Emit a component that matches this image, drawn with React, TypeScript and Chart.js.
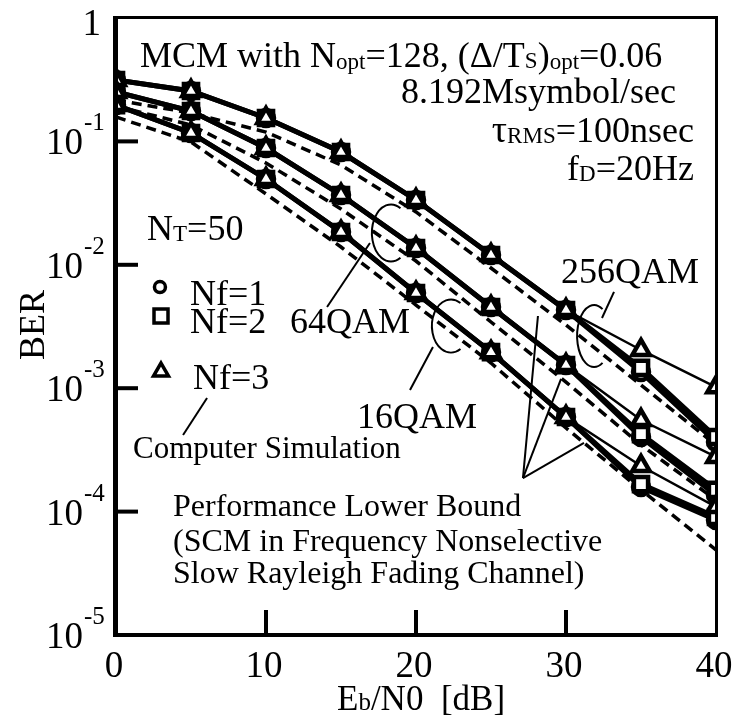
import React, { useEffect, useRef } from 'react';
import { Chart, registerables } from 'chart.js';

Chart.register(...registerables);

// ---------- data ----------
const ebn0 = [0, 5, 10, 15, 20, 25, 30, 35, 40];

const qam16Nf1 = [0.197, 0.117, 0.0496, 0.01845, 0.00591, 0.00196, 5.84e-4, 1.58e-4, 8.55e-5];
const qam16Nf2 = [0.197, 0.117, 0.0496, 0.01845, 0.00591, 0.00196, 5.84e-4, 1.67e-4, 9.04e-5];
const qam16Nf3 = [0.197, 0.117, 0.0496, 0.01845, 0.00591, 0.00196, 5.84e-4, 2.34e-4, 1.09e-4];

const qam64Nf1 = [0.2514, 0.1763, 0.0884, 0.0368, 0.01368, 0.00455, 0.00154, 4.02e-4, 1.36e-4];
const qam64Nf2 = [0.2514, 0.1763, 0.0884, 0.0368, 0.01368, 0.00455, 0.00154, 4.25e-4, 1.5e-4];
const qam64Nf3 = [0.2514, 0.1763, 0.0884, 0.0368, 0.01368, 0.00455, 0.00154, 5.52e-4, 2.77e-4];

const qam256Nf1 = [0.3145, 0.2561, 0.1547, 0.082, 0.0335, 0.012, 0.0043, 1.35e-3, 3.67e-4];
const qam256Nf2 = [0.3145, 0.2561, 0.1547, 0.082, 0.0335, 0.012, 0.0043, 1.46e-3, 4.02e-4];
const qam256Nf3 = [0.3145, 0.2561, 0.1547, 0.082, 0.0335, 0.012, 0.0043, 2.04e-3, 1.02e-3];

const bound16 = [0.1577, 0.0989, 0.0375, 0.01394, 0.00472, 0.0016, 4.76e-4, 1.5e-4, 4.89e-5];
const bound64 = [0.1936, 0.1358, 0.0668, 0.0283, 0.01073, 0.00344, 0.00112, 3.47e-4, 1.24e-4];
const bound256 = [0.2165, 0.17, 0.119, 0.0644, 0.0268, 0.00942, 0.00325, 0.00106, 3.47e-4];

const yTickExponents = [0, -1, -2, -3, -4, -5];
const xTickValues = [0, 10, 20, 30, 40];
const xInnerTicks = [10, 20, 30];
const yInnerTickExponents = [-1, -2, -3, -4];

const FONT = '"Liberation Serif", "Times New Roman", serif';

type Seg = [string, number, number?];

function drawRich(ctx: CanvasRenderingContext2D, x: number, y: number, segs: Seg[], align: 'left' | 'right' | 'center' = 'left') {
  let total = 0;
  for (const s of segs) {
    ctx.font = `${s[1]}px ${FONT}`;
    total += ctx.measureText(s[0]).width;
  }
  let cx = align === 'right' ? x - total : align === 'center' ? x - total / 2 : x;
  ctx.textAlign = 'left';
  ctx.textBaseline = 'alphabetic';
  for (const s of segs) {
    ctx.font = `${s[1]}px ${FONT}`;
    ctx.fillText(s[0], cx, y + (s[2] || 0));
    cx += ctx.measureText(s[0]).width;
  }
}

const toPts = (vals: number[]) => vals.map((v, i) => ({ x: ebn0[i], y: v }));

const simDs = (label: string, vals: number[], style: 'circle' | 'rect' | 'triangle', width: number, order: number) => ({
  label,
  data: toPts(vals),
  borderColor: '#000',
  borderWidth: width,
  pointStyle: style,
  pointRadius: style === 'circle' ? 8 : 10,
  pointBackgroundColor: '#fff',
  pointBorderColor: '#000',
  pointBorderWidth: 4.5,
  fill: false,
  tension: 0,
  clip: 0,
  order,
});

const boundDs = (label: string, vals: number[]) => ({
  label,
  data: toPts(vals),
  borderColor: '#000',
  borderWidth: 3.5,
  borderDash: [10, 6],
  pointRadius: 0,
  fill: false,
  tension: 0,
  clip: 0,
  order: 10,
});

const overlay = {
  id: 'overlay',
  afterDraw(chart: any) {
    const { ctx, chartArea: a, scales } = chart;
    const xs = scales.x;
    const ys = scales.y;
    const P = (db: number, e: number): [number, number] => [xs.getPixelForValue(db), ys.getPixelForValue(Math.pow(10, e))];
    ctx.save();
    ctx.fillStyle = '#000';
    ctx.strokeStyle = '#000';

    // frame
    ctx.fillRect(a.left - 3, a.top - 2, 5, a.bottom - a.top + 4);
    ctx.fillRect(a.left - 3, a.bottom - 2, a.right - a.left + 5, 4);
    ctx.fillRect(a.left, a.top - 2, a.right - a.left + 1, 3);
    ctx.fillRect(a.right - 1, a.top - 2, 3, a.bottom - a.top + 2);

    // inner ticks
    for (const e of yInnerTickExponents) {
      const py = ys.getPixelForValue(Math.pow(10, e));
      ctx.fillRect(a.left, py - 2, 22, 4);
    }
    for (const v of xInnerTicks) {
      const px = xs.getPixelForValue(v);
      ctx.fillRect(px - 2, a.bottom - 25, 4, 25);
    }

    // y tick labels
    for (const e of yTickExponents) {
      const py = ys.getPixelForValue(Math.pow(10, e));
      if (e === 0) {
        drawRich(ctx, a.left - 15, py + 17, [['1', 37]], 'right');
      } else {
        drawRich(ctx, a.left - 33, py + 13, [['10', 37]], 'right');
        drawRich(ctx, a.left - 32, py - 11, [['-' + String(-e), 25]], 'left');
      }
    }
    // x tick labels
    for (const v of xTickValues) {
      const px = xs.getPixelForValue(v);
      drawRich(ctx, px - 2, a.bottom + 42, [[String(v), 37]], 'center');
    }

    // axis titles
    ctx.save();
    ctx.translate(44, 325);
    ctx.rotate(-Math.PI / 2);
    drawRich(ctx, 0, 0, [['BER', 36]], 'center');
    ctx.restore();
    drawRich(ctx, 337, a.bottom + 75, [['E', 35], ['b', 25], ['/N0  [dB]', 35]], 'left');

    // header texts
    let p = P(1.6, -0.397);
    drawRich(ctx, p[0], p[1], [['MCM with N', 36], ['opt', 23, 2], ['=128, (\u0394/T', 36], ['S', 23, 1], [')', 36], ['opt', 23, 2], ['=0.06', 36]]);
    p = P(37.33, -0.689);
    drawRich(ctx, p[0], p[1], [['8.192Msymbol/sec', 36]], 'right');
    p = P(38.53, -1.005);
    drawRich(ctx, p[0], p[1], [['\u03c4', 38], ['RMS', 23, 1], ['=100nsec', 36]], 'right');
    p = P(38.53, -1.313);
    drawRich(ctx, p[0], p[1], [['f', 36], ['D', 23, 1], ['=20Hz', 36]], 'right');

    // legend
    p = P(2.07, -1.799);
    drawRich(ctx, p[0], p[1], [['N', 36], ['T', 23, 1], ['=50', 36]]);
    p = P(4.93, -2.326);
    drawRich(ctx, p[0], p[1], [['Nf=1', 36]]);
    p = P(4.93, -2.553);
    drawRich(ctx, p[0], p[1], [['Nf=2', 36]]);
    p = P(5.13, -3.006);
    drawRich(ctx, p[0], p[1], [['Nf=3', 36]]);
    ctx.lineWidth = 3.5;
    let m = P(2.93, -2.18);
    ctx.beginPath();
    ctx.arc(m[0], m[1], 5.5, 0, Math.PI * 2);
    ctx.stroke();
    m = P(3.0, -2.415);
    ctx.strokeRect(m[0] - 7, m[1] - 7, 14, 14);
    m = P(3.0, -2.853);
    ctx.beginPath();
    ctx.moveTo(m[0], m[1] - 7);
    ctx.lineTo(m[0] + 7.5, m[1] + 6);
    ctx.lineTo(m[0] - 7.5, m[1] + 6);
    ctx.closePath();
    ctx.stroke();

    // labels
    p = P(11.6, -2.553);
    drawRich(ctx, p[0], p[1], [['64QAM', 36]]);
    p = P(16.07, -3.323);
    drawRich(ctx, p[0], p[1], [['16QAM', 36]]);
    p = P(29.67, -2.147);
    drawRich(ctx, p[0], p[1], [['256QAM', 36]]);
    p = P(1.13, -3.566);
    drawRich(ctx, p[0], p[1], [['Computer Simulation', 31]]);
    p = P(3.8, -4.036);
    drawRich(ctx, p[0], p[1], [['Performance Lower Bound', 32]]);
    p = P(3.8, -4.319);
    drawRich(ctx, p[0], p[1], [['(SCM in Frequency Nonselective', 32]]);
    p = P(3.8, -4.579);
    drawRich(ctx, p[0], p[1], [['Slow Rayleigh Fading Channel)', 32]]);

    // pointer lines
    ctx.lineWidth = 2;
    const seg = (a1: [number, number], b1: [number, number]) => {
      ctx.beginPath();
      ctx.moveTo(a1[0], a1[1]);
      ctx.lineTo(b1[0], b1[1]);
      ctx.stroke();
    };
    seg(P(4.47, -3.379), P(6.07, -3.079));
    seg(P(14.07, -2.342), P(16.93, -1.823));
    seg(P(21.13, -2.666), P(19.6, -3.015));
    seg(P(32.4, -2.431), P(33.2, -2.22));
    const v = P(27.13, -3.728);
    seg(v, P(28.13, -2.415));
    seg(v, P(29.67, -2.925));
    seg(v, P(31.2, -3.444));

    // brackets
    const arc = (db: number, e: number, rdb: number, rdec: number) => {
      const c = P(db, e);
      const rx = Math.abs(xs.getPixelForValue(db + rdb) - c[0]);
      const ry = Math.abs(ys.getPixelForValue(Math.pow(10, e + rdec)) - c[1]);
      ctx.beginPath();
      ctx.ellipse(c[0], c[1], rx, ry, 0, -Math.PI / 3, Math.PI / 3, true);
      ctx.stroke();
    };
    arc(18.33, -1.742, 1.27, 0.231);
    arc(22.33, -2.496, 1.27, 0.215);
    arc(31.87, -2.577, 1.13, 0.251);

    ctx.restore();
  },
};

export default function App() {
  const ref = useRef<HTMLCanvasElement | null>(null);
  useEffect(() => {
    if (!ref.current) return;
    const chart = new Chart(ref.current, {
      type: 'line',
      data: {
        datasets: [
          boundDs('LB 16QAM', bound16),
          boundDs('LB 64QAM', bound64),
          boundDs('LB 256QAM', bound256),
          simDs('16QAM Nf=1', qam16Nf1, 'circle', 5, 5),
          simDs('16QAM Nf=2', qam16Nf2, 'rect', 5, 4),
          simDs('16QAM Nf=3', qam16Nf3, 'triangle', 2.5, 3),
          simDs('64QAM Nf=1', qam64Nf1, 'circle', 5, 5),
          simDs('64QAM Nf=2', qam64Nf2, 'rect', 5, 4),
          simDs('64QAM Nf=3', qam64Nf3, 'triangle', 2.5, 3),
          simDs('256QAM Nf=1', qam256Nf1, 'circle', 5, 5),
          simDs('256QAM Nf=2', qam256Nf2, 'rect', 5, 4),
          simDs('256QAM Nf=3', qam256Nf3, 'triangle', 2.5, 3),
        ] as any,
      },
      options: {
        animation: false,
        responsive: true,
        maintainAspectRatio: false,
        layout: { padding: { left: 0, top: 18, right: 22, bottom: 0 } },
        plugins: { legend: { display: false }, tooltip: { enabled: false } },
        scales: {
          x: {
            type: 'linear',
            min: 0,
            max: 40,
            ticks: { display: false },
            grid: { display: false },
            border: { display: false },
            afterFit: (s: any) => {
              s.height = 84;
            },
          },
          y: {
            type: 'logarithmic',
            min: 1e-5,
            max: 1,
            ticks: { display: false },
            grid: { display: false },
            border: { display: false },
            afterFit: (s: any) => {
              s.width = 116;
            },
          },
        },
      },
      plugins: [overlay],
    });
    return () => chart.destroy();
  }, []);
  return (
    <div style={{ position: 'fixed', left: 0, top: 0, width: 738, height: 719, background: '#fff' }}>
      <canvas ref={ref} />
    </div>
  );
}
